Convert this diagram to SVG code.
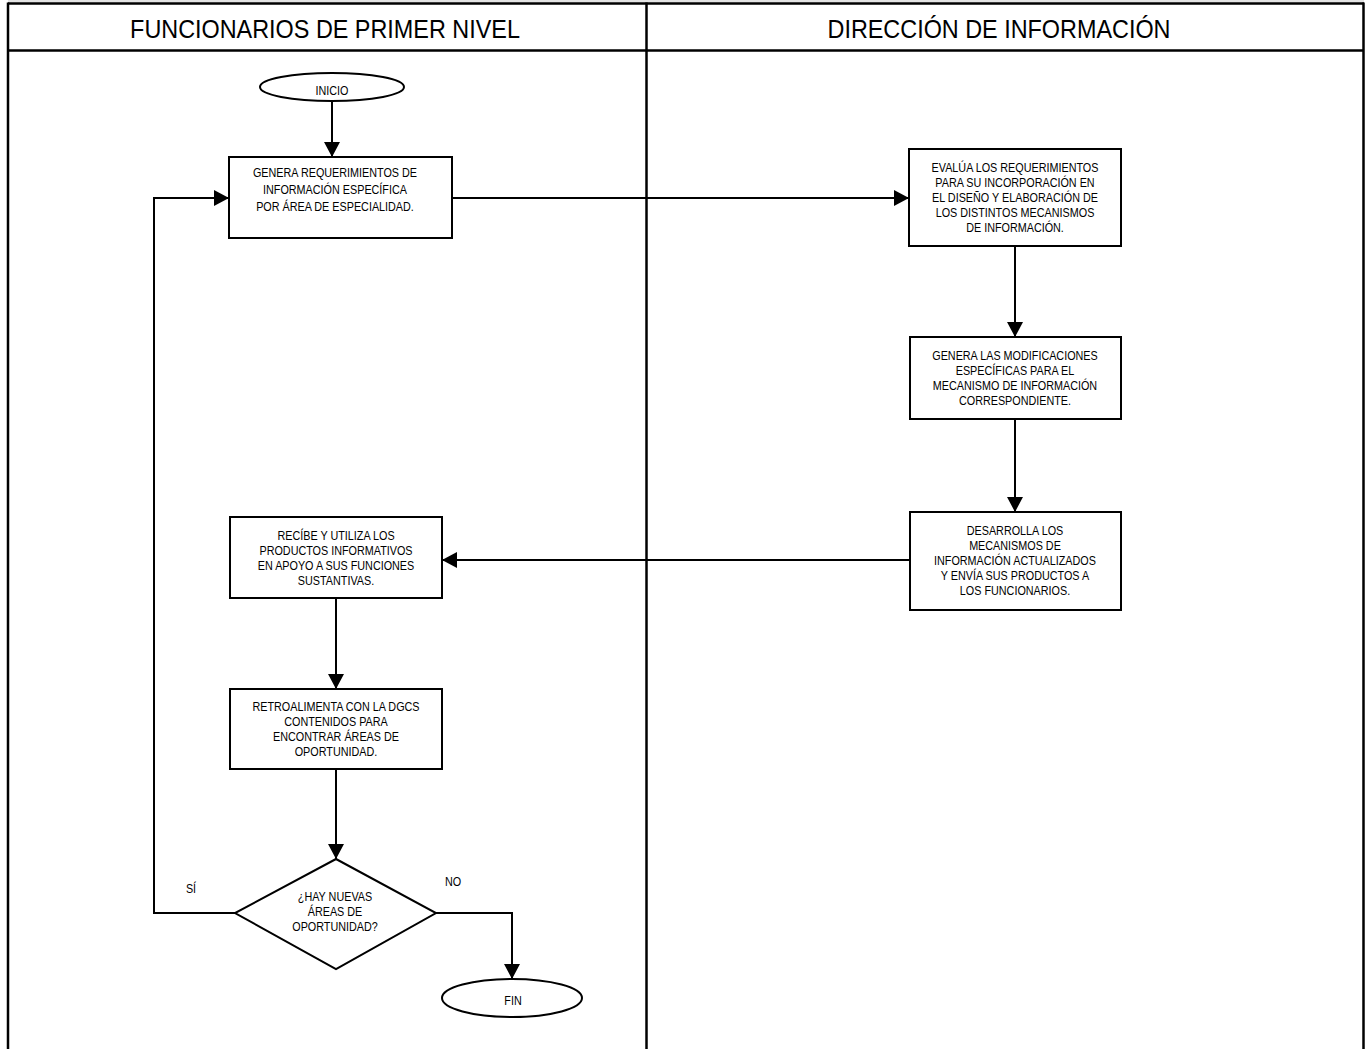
<svg xmlns="http://www.w3.org/2000/svg" width="1368" height="1049" viewBox="0 0 1368 1049">
  <defs>
    <marker id="arrow" markerUnits="userSpaceOnUse" markerWidth="16" markerHeight="16" refX="15" refY="8" orient="auto">
      <path d="M0,0 L15,8 L0,16 Z" fill="#000"/>
    </marker>
    <style>
      .frame { stroke: #000; stroke-width: 2.5; fill: none; }
      .shape { stroke: #000; stroke-width: 2; fill: #fff; }
      .conn { stroke: #000; stroke-width: 2; fill: none; marker-end: url(#arrow); }
      .title { font-family: "Liberation Sans", Arial, sans-serif; font-size: 26px; fill: #000; text-anchor: middle; }
      .lbl { font-family: "Liberation Sans", Arial, sans-serif; font-size: 12px; fill: #000; text-anchor: middle; }
    </style>
  </defs>

  <rect x="0" y="0" width="1368" height="1049" fill="#fff"/>

  <!-- swimlane frame -->
  <g id="lanes">
    <rect x="8" y="0" width="1356" height="2.5" fill="#e3e3e3"/>
    <line class="frame" x1="8" y1="3.5" x2="1364" y2="3.5"/>
    <line class="frame" x1="8" y1="50.5" x2="1364" y2="50.5"/>
    <line class="frame" x1="8" y1="2.5" x2="8" y2="1049"/>
    <line class="frame" x1="646.5" y1="2.5" x2="646.5" y2="1049"/>
    <line class="frame" x1="1363.5" y1="2.5" x2="1363.5" y2="1049"/>
    <!-- condensed lettering: horizontal squeeze around each column centre -->
    <g transform="translate(325,0) scale(0.9,1)">
      <text class="title" x="0" y="38">FUNCIONARIOS DE PRIMER NIVEL</text>
    </g>
    <g transform="translate(999,0) scale(0.9,1)">
      <text class="title" x="0" y="38">DIRECCIÓN DE INFORMACIÓN</text>
    </g>
  </g>

  <!-- connectors -->
  <g id="connectors">
    <path class="conn" d="M332,102 L332,157"/>
    <path class="conn" d="M452,198 L909,198"/>
    <path class="conn" d="M1015,246 L1015,337"/>
    <path class="conn" d="M1015,419 L1015,512"/>
    <path class="conn" d="M910,560 L442,560"/>
    <path class="conn" d="M336,598 L336,689"/>
    <path class="conn" d="M336,769 L336,859"/>
    <path class="conn" d="M235,913 L154,913 L154,198 L229,198"/>
    <path class="conn" d="M436,913 L512,913 L512,979"/>
    <g transform="translate(191,0) scale(0.9,1)"><text class="lbl" x="0" y="893">SÍ</text></g>
    <g transform="translate(453,0) scale(0.9,1)"><text class="lbl" x="0" y="886">NO</text></g>
  </g>

  <g id="inicio">
    <ellipse class="shape" cx="332" cy="87" rx="72" ry="14"/>
    <g transform="translate(332,0) scale(0.9,1)">
      <text class="lbl" x="0" y="95">INICIO</text>
    </g>
  </g>

  <g id="genera-requerimientos">
    <rect class="shape" x="229" y="157" width="223" height="81"/>
    <g transform="translate(335,0) scale(0.9,1)">
      <text class="lbl" x="0" y="177">GENERA REQUERIMIENTOS DE</text>
      <text class="lbl" x="0" y="194">INFORMACIÓN ESPECÍFICA</text>
      <text class="lbl" x="0" y="211">POR ÁREA DE ESPECIALIDAD.</text>
    </g>
  </g>

  <g id="evalua">
    <rect class="shape" x="909" y="149" width="212" height="97"/>
    <g transform="translate(1015,0) scale(0.9,1)">
      <text class="lbl" x="0" y="172">EVALÚA LOS REQUERIMIENTOS</text>
      <text class="lbl" x="0" y="187">PARA SU INCORPORACIÓN EN</text>
      <text class="lbl" x="0" y="202">EL DISEÑO Y ELABORACIÓN DE</text>
      <text class="lbl" x="0" y="217">LOS DISTINTOS MECANISMOS</text>
      <text class="lbl" x="0" y="232">DE INFORMACIÓN.</text>
    </g>
  </g>

  <g id="genera-modificaciones">
    <rect class="shape" x="910" y="337" width="211" height="82"/>
    <g transform="translate(1015,0) scale(0.9,1)">
      <text class="lbl" x="0" y="360">GENERA LAS MODIFICACIONES</text>
      <text class="lbl" x="0" y="375">ESPECÍFICAS PARA EL</text>
      <text class="lbl" x="0" y="390">MECANISMO DE INFORMACIÓN</text>
      <text class="lbl" x="0" y="405">CORRESPONDIENTE.</text>
    </g>
  </g>

  <g id="desarrolla">
    <rect class="shape" x="910" y="512" width="211" height="98"/>
    <g transform="translate(1015,0) scale(0.9,1)">
      <text class="lbl" x="0" y="535">DESARROLLA LOS</text>
      <text class="lbl" x="0" y="550">MECANISMOS DE</text>
      <text class="lbl" x="0" y="565">INFORMACIÓN ACTUALIZADOS</text>
      <text class="lbl" x="0" y="580">Y ENVÍA SUS PRODUCTOS A</text>
      <text class="lbl" x="0" y="595">LOS FUNCIONARIOS.</text>
    </g>
  </g>

  <g id="recibe">
    <rect class="shape" x="230" y="517" width="212" height="81"/>
    <g transform="translate(336,0) scale(0.9,1)">
      <text class="lbl" x="0" y="540">RECÍBE Y UTILIZA LOS</text>
      <text class="lbl" x="0" y="555">PRODUCTOS INFORMATIVOS</text>
      <text class="lbl" x="0" y="570">EN APOYO A SUS FUNCIONES</text>
      <text class="lbl" x="0" y="585">SUSTANTIVAS.</text>
    </g>
  </g>

  <g id="retroalimenta">
    <rect class="shape" x="230" y="689" width="212" height="80"/>
    <g transform="translate(336,0) scale(0.9,1)">
      <text class="lbl" x="0" y="711">RETROALIMENTA CON LA DGCS</text>
      <text class="lbl" x="0" y="726">CONTENIDOS PARA</text>
      <text class="lbl" x="0" y="741">ENCONTRAR ÁREAS DE</text>
      <text class="lbl" x="0" y="756">OPORTUNIDAD.</text>
    </g>
  </g>

  <g id="decision">
    <polygon class="shape" points="336,859 436,913 336,969 235,913"/>
    <g transform="translate(335,0) scale(0.9,1)">
      <text class="lbl" x="0" y="901">¿HAY NUEVAS</text>
      <text class="lbl" x="0" y="916">ÁREAS DE</text>
      <text class="lbl" x="0" y="931">OPORTUNIDAD?</text>
    </g>
  </g>

  <g id="fin">
    <ellipse class="shape" cx="512" cy="998" rx="70" ry="19"/>
    <g transform="translate(513,0) scale(0.9,1)">
      <text class="lbl" x="0" y="1005">FIN</text>
    </g>
  </g>
</svg>
